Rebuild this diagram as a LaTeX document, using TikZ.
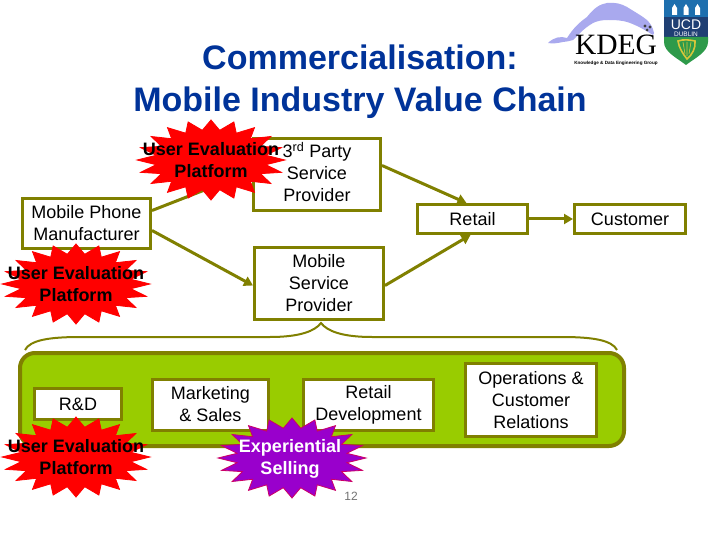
\documentclass[tikz,border=0pt]{standalone}
\usepackage{fontspec}
\setmainfont{Liberation Sans}
\newfontfamily\logoserif{Liberation Serif}
\usetikzlibrary{shapes.geometric,arrows.meta}
\definecolor{olivec}{HTML}{808000}
\definecolor{greenc}{HTML}{99CC00}
\definecolor{purplec}{HTML}{9900CC}
\definecolor{magentac}{HTML}{CC0066}
\definecolor{whalec}{HTML}{A9A9EE}
\definecolor{titleblue}{HTML}{003399}
\definecolor{ucdtop}{HTML}{1E6FAE}
\definecolor{ucdmid}{HTML}{1F3F73}
\definecolor{ucdgreen}{HTML}{2E9A4A}
\definecolor{ucdgold}{HTML}{D8C63A}
\tikzset{
  x=1pt,y=1pt,
  stagebox/.style={draw=olivec,line width=3pt,fill=white,inner sep=0pt,align=center,
    font=\fontsize{18}{22}\selectfont,text=black},
  link/.style={draw=olivec,line width=3pt,-{Triangle[length=9pt,width=10pt]}},
  plainlink/.style={draw=olivec,line width=3pt},
  burst/.style={star,star points=20,star point ratio=1.33,inner sep=0pt,minimum size=80pt,
    xscale=1.85,transform shape,line width=0.8pt},
  redburst/.style={burst,fill=red,draw=red},
  purpleburst/.style={burst,fill=purplec,draw=magentac},
  bursttext/.style={align=center,font=\bfseries\fontsize{18}{22}\selectfont,inner sep=0pt},
}
\newcommand{\stagebox}[6]{\node[stagebox,minimum width=#4pt,minimum height=#5pt] (#1) at (#2,#3) {#6};}
\begin{document}
\begin{tikzpicture}
\useasboundingbox (0,0) rectangle (720,-540);
\fill[white] (0,0) rectangle (720,-540);

% title
\node[align=center,inner sep=0pt,text=titleblue,font=\bfseries\fontsize{34}{41.5}\selectfont]
  (title) at (360,-81.5) {Commercialisation:\\Mobile Industry Value Chain};

% green band and brace
\draw[draw=olivec,fill=greenc,line width=4pt,rounded corners=15pt] (20,-353) rectangle (624,-446);
\coordinate (braceL) at (25,-350);
\coordinate (braceR) at (617,-350);
\coordinate (braceM) at (321,-323);
\draw[draw=olivec,line width=2pt] (braceL) .. controls (30,-340) and (50,-337) .. (80,-337)
  -- (270,-337) .. controls (300,-337) and (315,-331) .. (braceM)
  .. controls (327,-331) and (342,-337) .. (372,-337)
  -- (562,-337) .. controls (592,-337) and (612,-340) .. (braceR);

% boxes
\stagebox{third}{317}{-174.5}{127}{72}{3\textsuperscript{rd} Party\\Service\\Provider\rule[-5pt]{0pt}{5pt}}
\stagebox{phone}{86.5}{-223.5}{128}{50}{Mobile Phone\\Manufacturer\rule[-2pt]{0pt}{2pt}}
\stagebox{service}{319}{-283.5}{129}{72}{Mobile\\Service\\Provider}
\stagebox{retail}{472.5}{-219}{110}{29}{Retail}
\stagebox{customer}{630}{-219}{111}{29}{Customer}
\stagebox{rd}{78}{-404}{87}{31}{R\&D}
\stagebox{marketing}{210.5}{-405}{116}{51}{Marketing\\\&\ Sales\rule[-3pt]{0pt}{3pt}}
\stagebox{retaildev}{368.5}{-405}{130}{51}{Retail\\Development}
\stagebox{ops}{531}{-400}{131}{73}{Operations \&\\Customer\\Relations}

% connectors
\draw[plainlink] ([yshift=13pt]phone.east) -- ([yshift=3pt]third.west);
\draw[link] ([yshift=-7pt]phone.east) -- ([yshift=-2pt]service.west);
\draw[link] ([yshift=9pt]third.east) -- ([xshift=-6pt]retail.north);
\draw[link] ([yshift=-2pt]service.east) -- ([xshift=-2pt]retail.south);
\draw[link] (retail.east) -- (customer.west);

% bursts
\node[redburst] (burstA) at (211,-160) {};
\node[redburst] (burstB) at (76,-284) {};
\node[redburst] (burstC) at (76,-457) {};
\node[purpleburst] (burstD) at (292,-458) {};
\node[bursttext] (textA) at (211,-160) {User Evaluation\\Platform};
\node[bursttext] (textB) at (76,-284) {User Evaluation\\Platform};
\node[bursttext] (textC) at (76,-457) {User Evaluation\\Platform};
\node[bursttext,text=white] (textD) at (290,-459) {Experiential\\Selling};

% page number
\node[inner sep=0pt,text=black!55,font=\fontsize{12}{14}\selectfont] (pageno) at (351,-496) {12};

% KDEG logo: whale
\fill[whalec] (548,-43) .. controls (554,-37) and (561,-36) .. (567,-38)
  .. controls (574,-27) and (580,-22) .. (587,-17)
  .. controls (594,-8) and (600,-4) .. (607,-3)
  .. controls (615,-2) and (622,-4) .. (627,-7)
  .. controls (635,-12) and (642,-16) .. (647,-20)
  .. controls (651,-24) and (653,-28) .. (654,-33)
  -- (653,-35) .. controls (645,-30) and (638,-26) .. (630,-23)
  .. controls (622,-20) and (615,-20) .. (608,-20)
  .. controls (602,-20) and (597,-21) .. (593,-23)
  .. controls (588,-26) and (584,-29) .. (580,-33)
  -- (573,-40) .. controls (569,-41) and (566,-42) .. (563,-42)
  .. controls (558,-43) and (553,-44) .. (548,-43) -- cycle;
\fill[black!75] (645,-26) circle (1.6) (650,-27) circle (1.6) (647,-30) circle (1.5);
\node[inner sep=0pt,font=\logoserif\fontsize{29.5}{29.5}\selectfont] (kdeg) at (616,-45) {KDEG};
\node[inner sep=0pt,font=\bfseries\fontsize{4.6}{5}\selectfont] (kdegsub) at (616,-63) {Knowledge \&\ Data Engineering Group};

% UCD shield
\fill[ucdtop] (664,0) rectangle (708,-17);
\fill[ucdmid] (664,-17) rectangle (708,-37);
\fill[ucdgreen] (664,-37) -- (708,-37) -- (708,-42) .. controls (708,-52) and (695,-58) .. (686,-65)
  .. controls (677,-58) and (664,-52) .. (664,-42) -- cycle;
\fill[white] (672,-15) rectangle (677,-8) (672,-8) -- (674.5,-4) -- (677,-8) -- cycle
  (683.5,-15) rectangle (688.5,-8) (683.5,-8) -- (686,-4) -- (688.5,-8) -- cycle
  (695,-15) rectangle (700,-8) (695,-8) -- (697.5,-4) -- (700,-8) -- cycle;
\node[inner sep=0pt,text=white,font=\fontsize{14}{14}\selectfont] (ucd) at (686,-25) {UCD};
\node[inner sep=0pt,text=white,font=\fontsize{6.5}{7}\selectfont] (dublin) at (686,-34.5) {DUBLIN};
\draw[ucdgold,line width=1.6pt] (678,-41) .. controls (684,-39) and (690,-40) .. (695,-41)
  .. controls (696,-48) and (692,-55) .. (687,-59) .. controls (683,-54) and (679,-48) .. (678,-41) -- cycle;
\draw[ucdgold,line width=0.6pt] (683,-42) -- (685,-54) (687,-42) -- (687,-56) (691,-42) -- (689,-54);
\end{tikzpicture}
\end{document}
